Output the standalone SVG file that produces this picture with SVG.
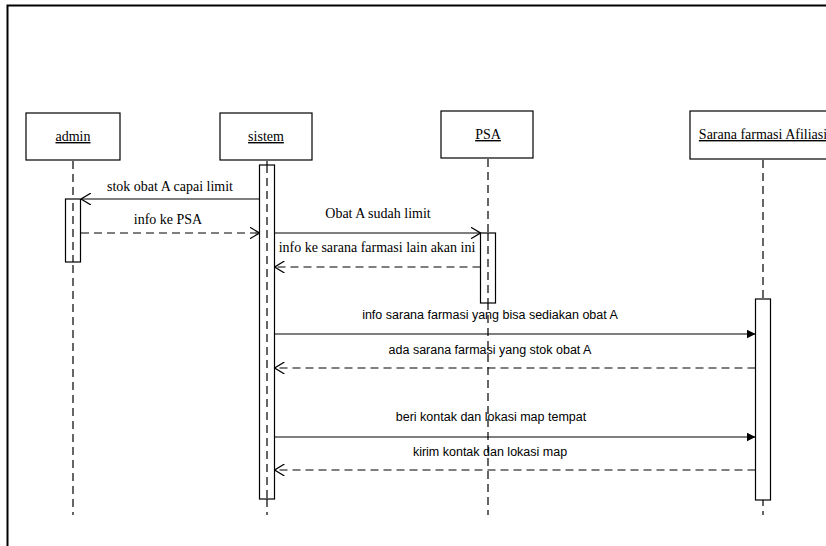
<svg xmlns="http://www.w3.org/2000/svg" width="826" height="546" viewBox="0 0 826 546">
<style>
.box{fill:#fff;stroke:#000;stroke-width:1.2}
.act{fill:#fff;stroke:#000;stroke-width:1.2}
.life{stroke:#000;stroke-width:1.2;stroke-dasharray:8,5;fill:none}
.msg{stroke:#000;stroke-width:1.2;fill:none}
.ret{stroke:#000;stroke-width:1.2;fill:none;stroke-dasharray:8,5}
.ser{font-family:"Liberation Serif","Times New Roman","DejaVu Serif",serif;font-size:14px;fill:#000}
.san{font-family:"Liberation Sans",Arial,sans-serif;font-size:12.5px;fill:#000}
.name{font-family:"Liberation Serif","Times New Roman","DejaVu Serif",serif;font-size:14px;fill:#000;text-decoration:underline;text-anchor:middle}
</style>
<defs>
<marker id="open" viewBox="0 0 10 12" refX="10" refY="6" markerWidth="10" markerHeight="12" markerUnits="userSpaceOnUse" orient="auto">
<path d="M0,0 L10,6 L0,12" fill="none" stroke="#000" stroke-width="1.2"/>
</marker>
<marker id="fill" viewBox="0 0 10 10" refX="10" refY="5" markerWidth="9" markerHeight="9" markerUnits="userSpaceOnUse" orient="auto">
<path d="M0,0 L10,5 L0,10 Z" fill="#000"/>
</marker>
</defs>
<rect width="826" height="546" fill="#fff"/>
<path d="M7.5,546 V5.5 H826" fill="none" stroke="#000" stroke-width="2"/>

<g id="admin">
<rect class="box" x="26" y="113" width="94" height="47"/>
<text class="name" x="73" y="141">admin</text>
<line class="life" x1="73" y1="161" x2="73" y2="515"/>
<rect class="act" x="65.5" y="199" width="15" height="63"/>
<line class="life" x1="73" y1="203" x2="73" y2="262"/>
</g>
<g id="sistem">
<rect class="box" x="220" y="113" width="92" height="47"/>
<text class="name" x="266" y="141">sistem</text>
<line class="life" x1="267" y1="161" x2="267" y2="515"/>
<rect class="act" x="259.5" y="165" width="15" height="334"/>
<line class="life" x1="267" y1="165" x2="267" y2="499"/>
</g>
<g id="psa">
<rect class="box" x="441" y="111" width="92" height="47"/>
<text class="name" x="488" y="139">PSA</text>
<line class="life" x1="488" y1="159" x2="488" y2="515"/>
<rect class="act" x="480.5" y="233" width="15" height="70"/>
<line class="life" x1="488" y1="233" x2="488" y2="303"/>
</g>
<g id="sarana">
<rect class="box" x="690" y="111" width="150" height="48"/>
<text class="name" x="763" y="139">Sarana farmasi Afiliasi</text>
<line class="life" x1="763" y1="160" x2="763" y2="515"/>
<rect class="act" x="755.5" y="299" width="15" height="201"/>
</g>

<g id="connectors">
<line class="msg" x1="259.5" y1="199" x2="81" y2="199" marker-end="url(#open)"/>
<text class="ser" x="170" y="191" text-anchor="middle">stok obat A capai limit</text>
<line class="ret" x1="81" y1="233" x2="259.5" y2="233" marker-end="url(#open)"/>
<text class="ser" x="168" y="224" text-anchor="middle">info  ke PSA</text>
<line class="msg" x1="274.5" y1="233" x2="480.5" y2="233" marker-end="url(#open)"/>
<text class="ser" x="378" y="218" text-anchor="middle">Obat A sudah limit</text>
<line class="ret" x1="480.5" y1="267" x2="274.5" y2="267" marker-end="url(#open)"/>
<text class="ser" x="377" y="252" text-anchor="middle">info ke sarana farmasi lain akan ini</text>
<line class="msg" x1="274.5" y1="334" x2="755.5" y2="334" marker-end="url(#fill)"/>
<text class="san" x="490" y="319" text-anchor="middle">info sarana farmasi yang bisa sediakan obat A</text>
<line class="ret" x1="755.5" y1="368" x2="274.5" y2="368" marker-end="url(#open)"/>
<text class="san" x="490" y="354" text-anchor="middle">ada sarana farmasi yang stok obat A</text>
<line class="msg" x1="274.5" y1="437" x2="755.5" y2="437" marker-end="url(#fill)"/>
<text class="san" x="491" y="421" text-anchor="middle">beri kontak dan lokasi map tempat</text>
<line class="ret" x1="755.5" y1="470" x2="274.5" y2="470" marker-end="url(#open)"/>
<text class="san" x="490" y="456" text-anchor="middle">kirim kontak dan lokasi map</text>
</g>
</svg>
